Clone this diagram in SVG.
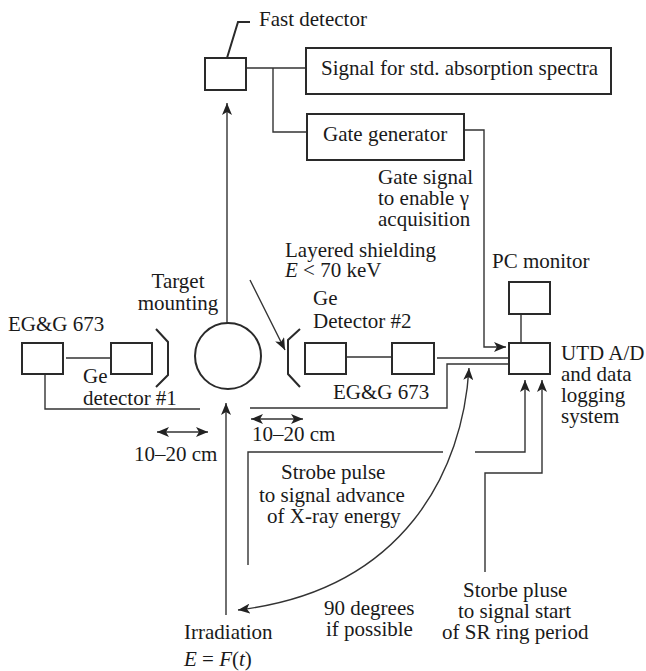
<svg xmlns="http://www.w3.org/2000/svg" width="646" height="671" viewBox="0 0 646 671">
<style>
text{font-family:"Liberation Serif","Times New Roman",serif;font-size:21px;fill:#1a1a1a}
.i{font-style:italic}
.b{fill:#fff;stroke:#2a2a2a;stroke-width:2}
.l{fill:none;stroke:#333;stroke-width:1.4}
.t{fill:none;stroke:#2a2a2a;stroke-width:2}
</style>
<defs>
<marker id="a" viewBox="0 0 12 10" refX="12" refY="5" markerWidth="12" markerHeight="10" markerUnits="userSpaceOnUse" orient="auto-start-reverse"><path d="M0,0 L12,5 L0,10 L3,5 Z" fill="#222"/></marker>
</defs>
<rect width="646" height="671" fill="#fff"/>
<g id="connectors">
<path class="l" d="M227,323V103" marker-end="url(#a)"/>
<path class="l" d="M226,615V403" marker-end="url(#a)"/>
<path class="t" d="M227,58L238,22H250"/>
<path class="l" d="M247,68H306M273,68V132H307"/>
<path class="l" d="M464,130H484V347H506" marker-end="url(#a)"/>
<path class="l" d="M66,358H111M346,357H392M437,358H509M521,314V343"/>
<path class="l" d="M45,374V409H200"/>
<path class="l" d="M250,408H447V364H509"/>
<path class="l" d="M248,565V452H443M475,452H525V380" marker-end="url(#a)"/>
<path class="l" d="M485,572V473H542V380" marker-end="url(#a)"/>
<path class="l" d="M469,368C463,470 405,590 238,610" marker-start="url(#a)" marker-end="url(#a)"/>
<path class="l" d="M250,280L285,350" marker-end="url(#a)"/>
<path class="l" d="M157,432H208" marker-start="url(#a)" marker-end="url(#a)"/>
<path class="l" d="M251,419H303" marker-start="url(#a)" marker-end="url(#a)"/>
</g>
<g id="fast-detector"><rect class="b" x="205" y="58" width="41" height="32"/><text x="259" y="26">Fast detector</text></g>
<g id="signal-box"><rect class="b" x="306" y="48" width="305" height="46"/><text x="321" y="75">Signal for std. absorption spectra</text></g>
<g id="gate-generator"><rect class="b" x="307" y="114" width="157" height="46"/><text x="323" y="141">Gate generator</text></g>
<g id="gate-label"><text x="378" y="184">Gate signal</text><text x="378" y="205">to enable γ</text><text x="378" y="226">acquisition</text></g>
<g id="target"><circle cx="228" cy="356" r="33" fill="#fff" stroke="#2a2a2a" stroke-width="2"/><text x="178" y="288" text-anchor="middle">Target</text><text x="178" y="310" text-anchor="middle">mounting</text></g>
<g id="shield"><path class="t" d="M156,329L168,342V375L156,387"/><path class="t" d="M300,329L288,340V374L300,387"/><text x="285" y="257">Layered shielding</text><text x="285" y="277"><tspan class="i">E</tspan> &lt; 70 keV</text></g>
<g id="eg1"><rect class="b" x="22" y="343" width="41" height="31"/><text x="8" y="331">EG&amp;G 673</text></g>
<g id="ge1"><rect class="b" x="111" y="343" width="41" height="31"/><text x="83" y="383">Ge</text><text x="83" y="405">detector #1</text></g>
<g id="ge2"><rect class="b" x="305" y="343" width="41" height="31"/><text x="313" y="305">Ge</text><text x="313" y="328">Detector #2</text></g>
<g id="eg2"><rect class="b" x="392" y="343" width="42" height="31"/><text x="333" y="399">EG&amp;G 673</text></g>
<g id="pc"><rect class="b" x="509" y="282" width="41" height="32"/><text x="492" y="268">PC monitor</text></g>
<g id="utd"><rect class="b" x="509" y="343" width="41" height="31"/><text x="561" y="360">UTD A/D</text><text x="561" y="381">and data</text><text x="561" y="402">logging</text><text x="561" y="423">system</text></g>
<g id="range-labels"><text x="134" y="461">10–20 cm</text><text x="252" y="441">10–20 cm</text></g>
<g id="strobe1"><text x="281" y="479">Strobe pulse</text><text x="259" y="502">to signal advance</text><text x="267" y="523">of X-ray energy</text></g>
<g id="strobe2"><text x="463" y="597">Storbe pluse</text><text x="458" y="618">to signal start</text><text x="442" y="639">of SR ring period</text></g>
<g id="angle"><text x="324" y="615">90 degrees</text><text x="326" y="636">if possible</text></g>
<g id="irradiation"><text x="184" y="639">Irradiation</text><text x="184" y="666"><tspan class="i">E</tspan> = <tspan class="i">F</tspan>(<tspan class="i">t</tspan>)</text></g>
</svg>
